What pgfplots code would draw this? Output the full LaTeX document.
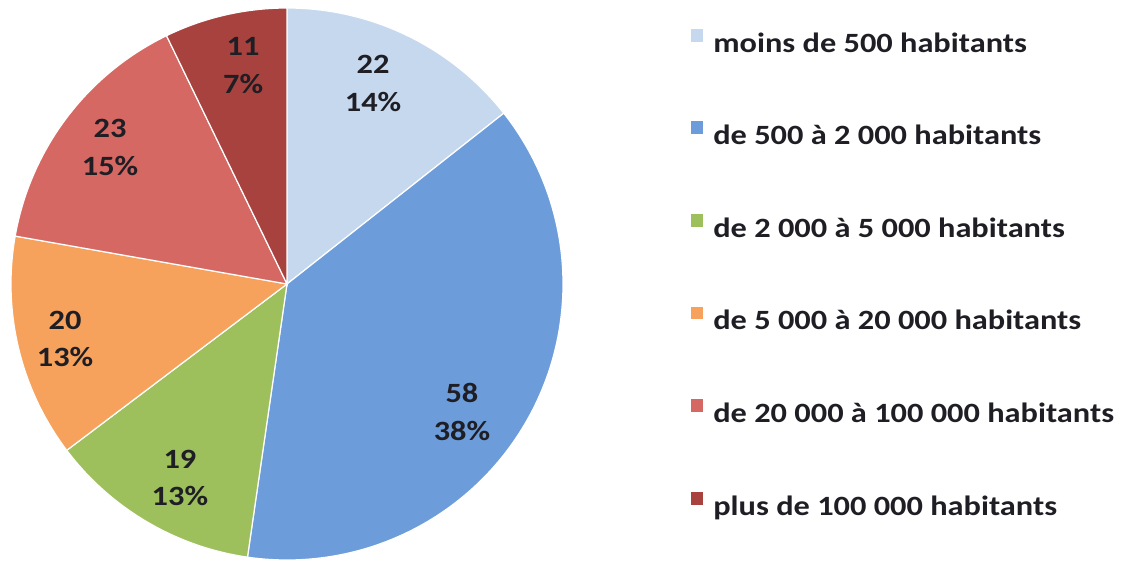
\documentclass[border=0pt]{standalone}
\usepackage{pgfplots}
\pgfplotsset{compat=1.18}
\usepackage{fontspec}
\setmainfont{Carlito}[FakeStretch=1.16]
\definecolor{c1}{RGB}{198,216,238}
\definecolor{c2}{RGB}{108,157,218}
\definecolor{c3}{RGB}{158,192,92}
\definecolor{c4}{RGB}{246,162,92}
\definecolor{c5}{RGB}{214,104,100}
\definecolor{c6}{RGB}{168,66,62}
\definecolor{lab}{RGB}{30,30,36}
% data: number of communes per class
\def\vA{22}\def\vB{58}\def\vC{19}\def\vD{20}\def\vE{23}\def\vF{11}
\pgfmathsetmacro{\tot}{\vA+\vB+\vC+\vD+\vE+\vF}
\pgfmathsetmacro{\k}{360/\tot}
\pgfmathsetmacro{\aA}{90}
\pgfmathsetmacro{\aB}{\aA-\k*\vA}
\pgfmathsetmacro{\aC}{\aB-\k*\vB}
\pgfmathsetmacro{\aD}{\aC-\k*\vC}
\pgfmathsetmacro{\aE}{\aD-\k*\vD}
\pgfmathsetmacro{\aF}{\aE-\k*\vE}
\pgfmathsetmacro{\aG}{\aF-\k*\vF}
\begin{document}
\begin{tikzpicture}
\path[use as bounding box] (0,0) rectangle (1126bp,-561bp);
\begin{axis}[
  at={(287bp,-284bp)}, anchor=center,
  scale only axis, width=552bp, height=552bp,
  xmin=-1, xmax=1, ymin=-1, ymax=1,
  hide axis, clip=false,
  legend style={at={(1.23,0.965)}, anchor=north west, draw=none, fill=none,
    inner sep=0pt, row sep=62bp,
    nodes={font=\fontsize{28}{30}\selectfont\bfseries, text=lab, inner sep=0pt, text height=20bp, text depth=6bp},
  },
  legend cell align=left,
  legend image code/.code={\path (0bp,0bp) -- (22bp,0bp); \fill[#1] (0bp,3bp) rectangle (13bp,17bp);},
  every axis plot/.append style={draw=white, line width=1.2bp},
]
\addplot[fill=c1, domain=\aB:\aA, samples=60] ({cos(x)},{sin(x)}) -- (axis cs:0,0) -- cycle;
\addlegendentry{moins de 500 habitants}
\addplot[fill=c2, domain=\aC:\aB, samples=120] ({cos(x)},{sin(x)}) -- (axis cs:0,0) -- cycle;
\addlegendentry{de 500 à 2 000 habitants}
\addplot[fill=c3, domain=\aD:\aC, samples=60] ({cos(x)},{sin(x)}) -- (axis cs:0,0) -- cycle;
\addlegendentry{de 2 000 à 5 000 habitants}
\addplot[fill=c4, domain=\aE:\aD, samples=60] ({cos(x)},{sin(x)}) -- (axis cs:0,0) -- cycle;
\addlegendentry{de 5 000 à 20 000 habitants}
\addplot[fill=c5, domain=\aF:\aE, samples=60] ({cos(x)},{sin(x)}) -- (axis cs:0,0) -- cycle;
\addlegendentry{de 20 000 à 100 000 habitants}
\addplot[fill=c6, domain=\aG:\aF, samples=40] ({cos(x)},{sin(x)}) -- (axis cs:0,0) -- cycle;
\addlegendentry{plus de 100 000 habitants}
\begin{scope}[every node/.style={align=center, text=lab, font=\fontsize{28}{38}\selectfont\bfseries}]
\node at (axis cs:0.312,0.728) {22\\14\%};
\node at (axis cs:0.634,-0.464) {58\\38\%};
\node at (axis cs:-0.388,-0.703) {19\\13\%};
\node at (axis cs:-0.804,-0.199) {20\\13\%};
\node at (axis cs:-0.641,0.496) {23\\15\%};
\node at (axis cs:-0.159,0.793) {11\\7\%};
\end{scope}
\end{axis}
\end{tikzpicture}
\end{document}
